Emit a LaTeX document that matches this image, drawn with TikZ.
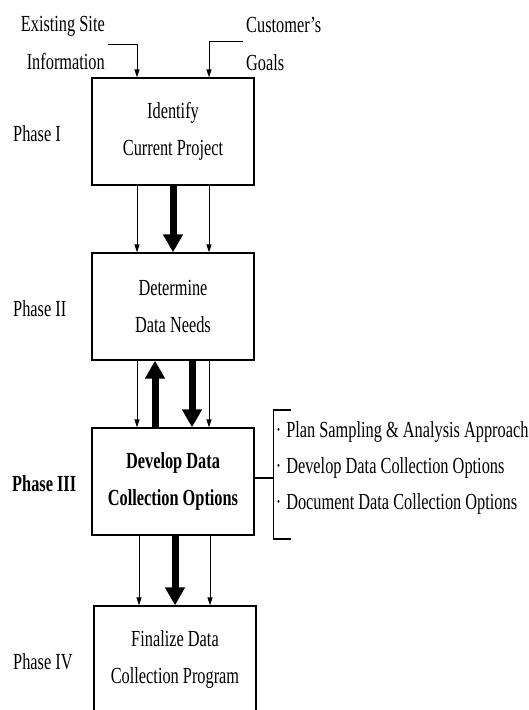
\documentclass[tikz,border=0pt]{standalone}
\usepackage{fontspec}
\setmainfont[FakeStretch=0.71]{Liberation Serif}
\usetikzlibrary{arrows.meta}

\tikzstyle{phasebox} = [rectangle,
minimum width=162pt,
minimum height=107pt,
align=center,
draw=black,
line width=1.3pt,
font=\fontsize{23}{37}\selectfont]
\tikzstyle{phasename} = [anchor=west,
inner sep=0pt,
font=\fontsize{23}{26}\selectfont]
\tikzstyle{inputtext} = [inner sep=0pt,
font=\fontsize{23}{38}\selectfont]
\tikzstyle{flow} = [-{Triangle[width=5pt,length=8pt]}, line width=1pt]
\tikzstyle{bigflow} = [-{Triangle[width=19pt,length=18pt]}, line width=7pt]

\begin{document}
\begin{tikzpicture}[x=1pt, y=1pt, node distance=175pt]
\useasboundingbox (0,0) rectangle (529,710);

\node (ident) [phasebox] at (173,578.5) {Identify\\Current Project};
\node (needs) [phasebox, below of=ident] {Determine\\Data Needs};
\node (options) [phasebox, below of=needs, font=\fontsize{23}{37}\selectfont\bfseries] {Develop Data\\Collection Options};
\node (final) [phasebox, below of=options, xshift=2pt, yshift=-3pt] {Finalize Data\\Collection Program};

\node (ph1) [phasename] at ([xshift=-160pt,yshift=-2pt]ident) {Phase I};
\node (ph2) [phasename] at ([xshift=-160pt,yshift=-2pt]needs) {Phase II};
\node (ph3) [phasename, font=\fontsize{23}{26}\selectfont\bfseries] at ([xshift=-161pt,yshift=-2pt]options) {Phase III};
\node (ph4) [phasename] at ([xshift=-162pt,yshift=-2pt]final) {Phase IV};

\node (site) [inputtext, anchor=east, align=right] at ([xshift=-68pt,yshift=88pt]ident) {Existing Site\\Information};
\node (goals) [inputtext, anchor=west, align=left] at ([xshift=73pt,yshift=88pt]ident) {Customer's\\Goals};
\coordinate (sitein) at ([xshift=3pt,yshift=-1pt]site.east);
\coordinate (goalsin) at (243,668);

\draw [flow] (sitein) -| ([xshift=-36pt]ident.north);
\draw [flow] (goalsin) -| ([xshift=36pt]ident.north);

\draw [flow] ([xshift=-36pt]ident.south) -- ([xshift=-36pt]needs.north);
\draw [flow] ([xshift=36pt]ident.south) -- ([xshift=36pt]needs.north);
\draw [bigflow] (ident) -- (needs);

\draw [flow] ([xshift=-36pt]needs.south) -- ([xshift=-36pt]options.north);
\draw [flow] ([xshift=36pt]needs.south) -- ([xshift=36pt]options.north);
\draw [bigflow] ([xshift=-18pt]options.north) -- ([xshift=-18pt]needs.south);
\draw [bigflow] ([xshift=19pt]needs.south) -- ([xshift=19pt]options.north);

\draw [flow] ([xshift=-34pt]options.south) -- ([xshift=-36pt]final.north);
\draw [flow] ([xshift=37pt]options.south) -- ([xshift=35pt]final.north);
\draw [bigflow] ([xshift=2pt]options.south) -- (final.north);

% bracket with the steps of phase III
\coordinate (brk) at ([xshift=19pt,yshift=3.5pt]options.east);
\draw [line width=1.1pt] ([yshift=3.5pt]options.east) -- (brk);
\draw [line width=1.1pt] ([shift={(17pt,68pt)}]brk) -- ([yshift=68pt]brk) -- ([yshift=-61pt]brk) -- ([shift={(17pt,-61pt)}]brk);
\node (steps) [anchor=west, inner sep=0pt, align=left, font=\fontsize{23}{36}\selectfont] at ([xshift=2pt,yshift=10.5pt]brk) {·\hspace{5pt}Plan Sampling \& Analysis Approach\\·\hspace{5pt}Develop Data Collection Options\\·\hspace{5pt}Document Data Collection Options};
\end{tikzpicture}
\end{document}
